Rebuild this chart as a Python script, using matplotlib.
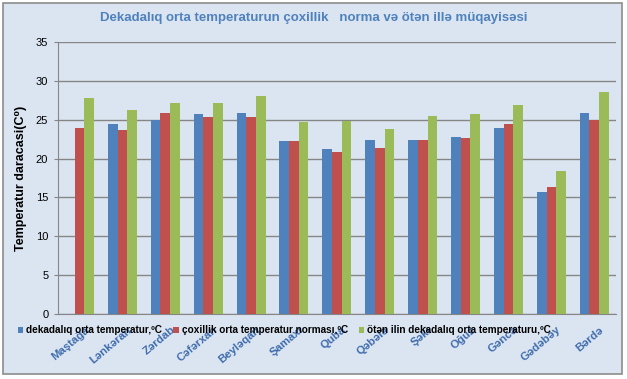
import numpy as np
import matplotlib.pyplot as plt
import matplotlib.patches as mpatches
from matplotlib.transforms import ScaledTranslation

plt.rcParams["font.family"] = ["Liberation Sans", "DejaVu Sans"]

# məlumatlar
stations = ["Maştağa", "Lənkəran", "Zərdab", "Cəfərxan", "Beyləqan", "Şamaxı",
            "Quba", "Qəbələ", "Şəki", "Oğuz", "Gəncə", "Gədəbəy", "Bərdə"]
dekada = [np.nan, 24.5, 25.0, 25.7, 25.9, 22.3, 21.2, 22.4, 22.4, 22.8, 24.0, 15.7, 25.9]
norma = [24.0, 23.7, 25.9, 25.4, 25.4, 22.3, 20.9, 21.4, 22.4, 22.7, 24.5, 16.4, 25.0]
oten_il = [27.8, 26.3, 27.2, 27.2, 28.1, 24.7, 24.9, 23.8, 25.5, 25.8, 26.9, 18.4, 28.6]

labels = ["dekadalıq orta temperatur,ºC", "çoxillik orta temperatur norması,ºC",
          "ötən ilin dekadalıq orta temperaturu,ºC"]
colors = ["#4f81bd", "#c0504d", "#9bbb59"]
bg = "#dbe5f1"

fig = plt.figure(figsize=(6.27, 3.79), dpi=100, facecolor="white")
fig.patches.append(mpatches.Rectangle((0.005, 0.013), 0.987, 0.98, transform=fig.transFigure,
                                      facecolor=bg, edgecolor="#8c8c8c", lw=1.2, zorder=-1))
ax = fig.add_axes([0.0925, 0.1715, 0.8895, 0.7175])
ax.set_facecolor(bg)

x = np.arange(len(stations))
w = 0.226
for i, (vals, c, lab) in enumerate(zip([dekada, norma, oten_il], colors, labels)):
    ax.bar(x + (i - 1) * w, vals, width=w, color=c, label=lab, zorder=3)

ax.set_xlim(-0.5, len(stations) - 0.5)
ax.set_ylim(0, 35)
ax.set_yticks(range(0, 36, 5))
ax.tick_params(axis="y", labelsize=8, length=3, color="#868686", pad=4)
ax.tick_params(axis="x", length=0, pad=2)
ax.yaxis.grid(True, color="#868686", lw=1)
ax.set_axisbelow(True)
for s in ["top", "right"]:
    ax.spines[s].set_visible(False)
ax.spines["left"].set_color("#868686")
ax.spines["bottom"].set_color("#868686")

ax.set_xticks(x)
ax.set_xticklabels(stations, rotation=40, ha="right", va="top", rotation_mode="anchor",
                   fontsize=8.2, fontweight="bold", color="#3f6cae")
# etiketləri bir az aşağı-sağa sür
shift = ScaledTranslation(5 / 100, -8 / 100, fig.dpi_scale_trans)
for t in ax.get_xticklabels():
    t.set_transform(t.get_transform() + shift)

ax.set_ylabel("Temperatur daracasi(C⁰)", fontsize=9, fontweight="bold")
ax.yaxis.set_label_coords(-0.056, 0.5)

fig.text(0.5, 0.953, "Dekadalıq orta temperaturun çoxillik   norma və ötən illə müqayisəsi",
         ha="center", va="center", fontsize=9.5, fontweight="bold", color="#4f81bd")

leg = fig.legend(loc="center left", bbox_to_anchor=(0.022, 0.128), ncol=3, frameon=False,
                 prop=dict(size=7.2, weight="bold"), handlelength=0.55, handleheight=0.55,
                 handletextpad=0.3, columnspacing=1.1, borderaxespad=0)
leg.set_zorder(5)

fig.savefig("out.png", dpi=100, facecolor="white")
